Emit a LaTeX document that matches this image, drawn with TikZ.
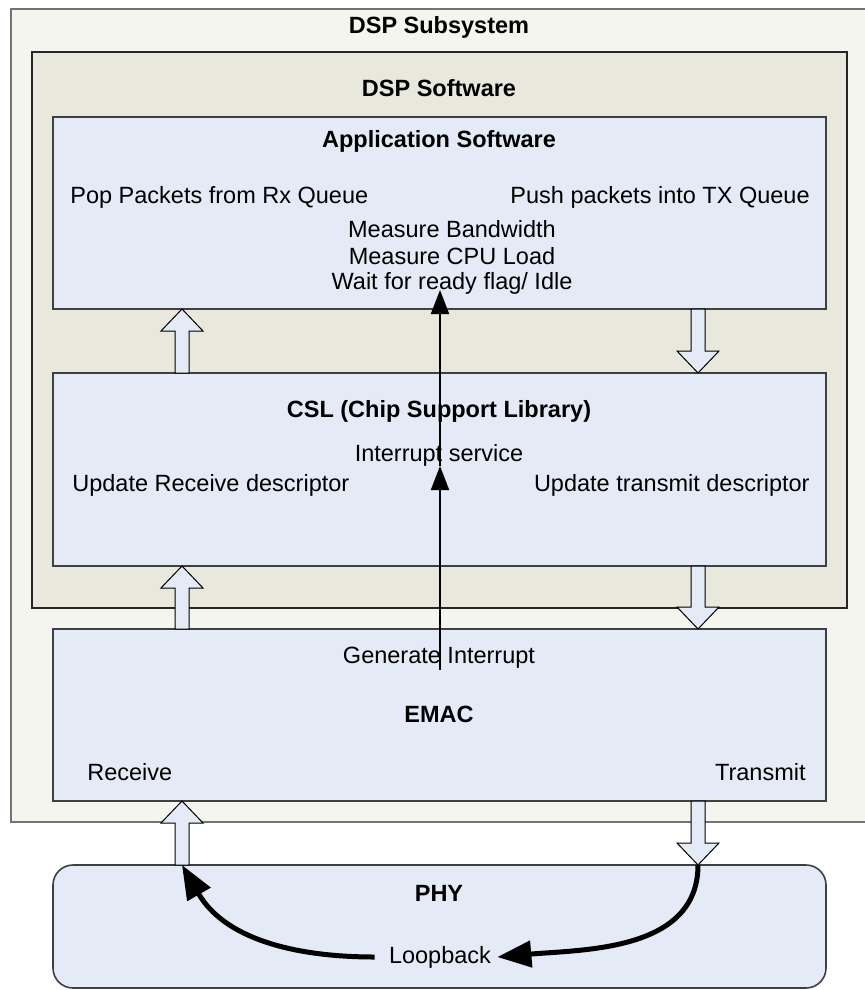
\documentclass[tikz,border=0pt]{standalone}
\usepackage{fontspec}
\setmainfont{Liberation Sans}
\usetikzlibrary{arrows.meta,calc}

\definecolor{subsysfill}{RGB}{243,245,238}
\definecolor{softfill}{RGB}{232,232,220}
\definecolor{boxfill}{RGB}{228,235,247}

% hollow block arrow between two points on one vertical line
\newcommand{\hollowarrow}[2]{%
  \draw[hollow] let \p1=(#1), \p2=(#2), \n1={(\y2-\y1)/abs(\y2-\y1)} in
    ({\x1-3.5pt},\y1) -- ({\x1-3.5pt},{\y2-\n1*11pt}) -- ({\x1-10.5pt},{\y2-\n1*11pt})
    -- (\x1,\y2) -- ({\x1+10.5pt},{\y2-\n1*11pt}) -- ({\x1+3.5pt},{\y2-\n1*11pt})
    -- ({\x1+3.5pt},\y1) -- cycle;}

\begin{document}
\begin{tikzpicture}[x=0.5pt,y=-0.5pt,
  subsys/.style={draw=black!55, line width=1pt, fill=subsysfill, anchor=north west, inner sep=0pt, outer sep=0pt},
  soft/.style={draw=black!85, line width=0.6pt, fill=softfill, anchor=north west, inner sep=0pt, outer sep=0pt},
  layer/.style={draw=black!75, line width=0.8pt, fill=boxfill, anchor=north west, inner sep=0pt, outer sep=0pt, minimum width=386.5pt},
  txt/.style={font=\fontsize{11.75}{14}\selectfont, inner sep=2pt},
  title/.style={font=\fontsize{11.75}{14}\selectfont\bfseries, inner sep=2pt},
  hollow/.style={draw=black, line width=0.5pt, fill=boxfill},
  sig/.style={draw=black, line width=1pt, -{Triangle[length=12pt,width=9pt]}},
  loopline/.style={draw=black, line width=2.5pt, -{Triangle[length=17pt,width=13pt]}}]
\useasboundingbox (0,0) rectangle (864,990);

% boxes
\node[subsys, minimum width=427.5pt, minimum height=406.5pt] (subsys) at (11,9) {};
\node[soft, minimum width=407.5pt, minimum height=278pt] (soft) at (32,52) {};
\node[layer, minimum height=96pt] (app) at (53,117) {};
\node[layer, minimum height=96.5pt] (csl) at (53,373) {};
\node[layer, minimum height=86pt] (emac) at (53,629) {};
\node[layer, rounded corners=10pt, minimum height=61.5pt] (phy) at (53,865) {};

% titles
\node[title] (subsystitle) at (439,27) {DSP Subsystem};
\node[title] (softtitle) at (439,88) {DSP Software};
\node[title] (apptitle) at (439,141) {Application Software};
\node[title] (csltitle) at (439,411) {CSL (Chip Support Library)};
\node[title] (emactitle) at (439,714) {EMAC};
\node[title] (phytitle) at (439,893) {PHY};

% application software
\node[txt, anchor=west] (pop) at (66,197) {Pop Packets from Rx Queue};
\node[txt, anchor=east] (push) at (814,197) {Push packets into TX Queue};
\node[txt] (bw) at (452,229) {Measure Bandwidth};
\node[txt] (cpu) at (452,256) {Measure CPU Load};
\node[txt] (wait) at (452,283) {Wait for ready flag/ Idle};

% CSL
\node[txt] (isr) at (439,455) {Interrupt service};
\node[txt, anchor=west] (rxdesc) at (68,485) {Update Receive descriptor};
\node[txt, anchor=east] (txdesc) at (814,485) {Update transmit descriptor};

% EMAC and PHY
\node[txt] (gen) at (439,658) {Generate Interrupt};
\node[txt, anchor=west] (receive) at (83,772) {Receive};
\node[txt, anchor=east] (transmit) at (810,772) {Transmit};
\node[txt] (loop) at (440,957) {Loopback};

% The links:
\coordinate (rxline) at (182,0);
\coordinate (txline) at (698,0);
\hollowarrow{csl.north -| rxline}{app.south -| rxline}
\hollowarrow{app.south -| txline}{csl.north -| txline}
\hollowarrow{emac.north -| rxline}{csl.south -| rxline}
\hollowarrow{csl.south -| txline}{emac.north -| txline}
\hollowarrow{phy.north -| rxline}{emac.south -| rxline}
\hollowarrow{emac.south -| txline}{phy.north -| txline}

% interrupt path
\coordinate (irqsrc) at (440,670);
\coordinate (irq) at (440,466);
\coordinate (irqdst) at (440,290);
\draw[sig] (irqsrc) -- (irq);
\draw[sig] (irq) -- (irqdst);

% loopback
\draw[loopline] (phy.north -| txline) to[out=-90,in=5] ([xshift=1pt]loop.east);
\draw[loopline] ([xshift=-5pt]loop.west) to[out=180,in=-60] (phy.north -| rxline);
\end{tikzpicture}
\end{document}
